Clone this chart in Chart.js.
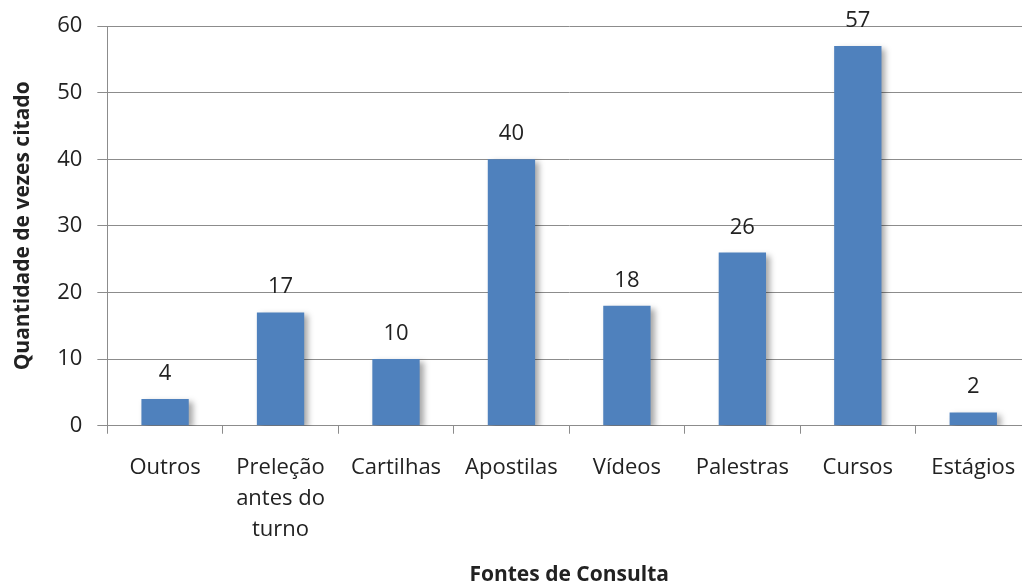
<!DOCTYPE html>
<html>
<head>
<meta charset="utf-8">
<script src="https://cdn.jsdelivr.net/npm/chart.js@4.4.1/dist/chart.umd.min.js"></script>
<style>
    html, body { margin: 0; padding: 0; background: #fff; overflow: hidden; }
    #wrap { width: 1040px; height: 585px; position: relative; }
</style>
</head>
<body>
<div id="wrap"><canvas id="chart"></canvas></div>
<script>
    // categories (multi-line labels as arrays)
    var categories = [
        'Outros',
        ['Preleção', 'antes do', 'turno'],
        'Cartilhas',
        'Apostilas',
        'Vídeos',
        'Palestras',
        'Cursos',
        'Estágios'
    ];
    var citedCounts = [4, 17, 10, 40, 18, 26, 57, 2];
    var yTicks = [0, 10, 20, 30, 40, 50, 60];

    var textColor = '#222';
    var gridColor = '#8c8c8c';
    var fontFamily = "'Open Sans', 'DejaVu Sans', sans-serif";

    // soft shadow behind the bars
    var barShadow = {
        id: 'barShadow',
        beforeDatasetsDraw: function (chart) {
            var ctx = chart.ctx;
            ctx.save();
            ctx.shadowColor = 'rgba(0, 0, 0, 0.35)';
            ctx.shadowBlur = 6;
            ctx.shadowOffsetX = 4;
            ctx.shadowOffsetY = 3;
        },
        afterDatasetsDraw: function (chart) {
            chart.ctx.restore();
        }
    };

    // value labels above each bar
    var valueLabels = {
        id: 'valueLabels',
        afterDatasetsDraw: function (chart) {
            var ctx = chart.ctx;
            var meta = chart.getDatasetMeta(0);
            ctx.save();
            ctx.fillStyle = textColor;
            ctx.font = '22px ' + fontFamily;
            ctx.textAlign = 'center';
            ctx.textBaseline = 'alphabetic';
            meta.data.forEach(function (bar, i) {
                ctx.fillText(String(citedCounts[i]), bar.x, bar.y - 19);
            });
            ctx.restore();
        }
    };

    var chart = new Chart(document.getElementById('chart'), {
        type: 'bar',
        data: {
            labels: categories,
            datasets: [{
                data: citedCounts,
                backgroundColor: '#4f81bd',
                borderWidth: 0,
                barPercentage: 0.41,
                categoryPercentage: 1.0
            }]
        },
        options: {
            responsive: true,
            maintainAspectRatio: false,
            animation: false,
            layout: { padding: { top: 9, right: 9, left: 10, bottom: -3 } },
            plugins: {
                legend: { display: false },
                tooltip: { enabled: false }
            },
            scales: {
                x: {
                    grid: {
                        drawOnChartArea: false,
                        drawTicks: true,
                        tickLength: 8,
                        color: gridColor
                    },
                    border: { color: gridColor, width: 1 },
                    ticks: {
                        color: textColor,
                        font: { family: fontFamily, size: 22, lineHeight: 1.41 },
                        padding: 18,
                        maxRotation: 0,
                        autoSkip: false
                    },
                    title: {
                        display: true,
                        text: 'Fontes de Consulta',
                        color: textColor,
                        font: { family: fontFamily, size: 21, weight: 'bold' },
                        padding: { top: 0, bottom: 0 }
                    }
                },
                y: {
                    min: 0,
                    max: 60,
                    afterBuildTicks: function (axis) {
                        axis.ticks = yTicks.map(function (v) { return { value: v }; });
                    },
                    grid: {
                        color: gridColor,
                        tickLength: 10
                    },
                    border: { color: gridColor, width: 1 },
                    ticks: {
                        color: textColor,
                        font: { family: fontFamily, size: 22, lineHeight: 1.0 },
                        padding: 15
                    },
                    title: {
                        display: true,
                        text: 'Quantidade de vezes citado',
                        color: textColor,
                        font: { family: fontFamily, size: 21, weight: 'bold' },
                        padding: { top: 0, bottom: 7 }
                    }
                }
            }
        },
        plugins: [barShadow, valueLabels]
    });
</script>
</body>
</html>
